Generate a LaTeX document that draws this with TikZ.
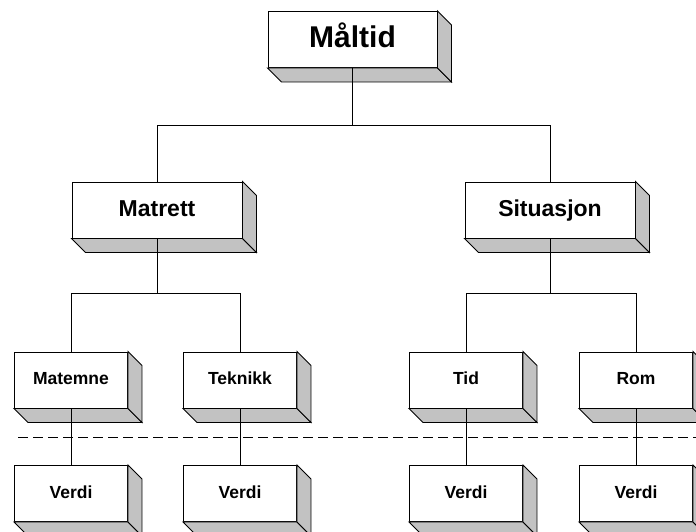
\documentclass[tikz,border=0pt]{standalone}
\usepackage{fontspec}
\setmainfont{Liberation Sans}
\usetikzlibrary{calc}
\definecolor{skygge}{gray}{0.76}

\begin{document}
\begin{tikzpicture}[x=1pt,y=-1pt,line width=0.9pt,
	blokk/.style={draw,fill=white,inner sep=0pt,minimum height=56pt},
	stor/.style={blokk,minimum width=169pt,text height=22pt,text depth=6pt,font=\bfseries\fontsize{30}{34}\selectfont},
	middels/.style={blokk,minimum width=170pt,text height=17pt,text depth=4.5pt,font=\bfseries\fontsize{23}{27}\selectfont},
	liten/.style={blokk,minimum width=113pt,text height=13pt,text depth=3.5pt,font=\bfseries\fontsize{17.5}{21}\selectfont}]
					%\draw[help lines] (0,0) grid[step=50] (696,531);
					\clip (0,0) rectangle (696,531);
					\fill[white] (0,0) rectangle (696,531);
					%MALTID
					\node[stor] (maltid) at (352.5,39.5) {Måltid};
					%MATRETT ET SITUASJON
					\node[middels] (matrett) at (157,210) {Matrett};
					\node[middels] (situasjon) at (550,210) {Situasjon};
					%NIVAA 3
					\node[liten] (matemne) at (71,380) {Matemne};
					\node[liten] (teknikk) at (240,380) {Teknikk};
					\node[liten] (tid) at (466,380) {Tid};
					\node[liten] (rom) at (636,380) {Rom};
					%VERDI
					\node[liten] (verdiA) at (71,493.5) {Verdi};
					\node[liten] (verdiB) at (240,493.5) {Verdi};
					\node[liten] (verdiC) at (466,493.5) {Verdi};
					\node[liten] (verdiD) at (636,493.5) {Verdi};

					%SKYGGE
					\foreach \n in {maltid,matrett,situasjon,matemne,teknikk,tid,rom,verdiA,verdiB,verdiC,verdiD}{
						\filldraw[fill=skygge] (\n.south west) -- ++(14,14) -- ($(\n.south east)+(14,14)$) -- (\n.south east) -- cycle;
						\filldraw[fill=skygge] (\n.north east) -- ++(14,14) -- ($(\n.south east)+(14,14)$) -- (\n.south east) -- cycle;
					}

					%LINJER
					\coordinate (k1) at (0,125);
					\coordinate (k2) at (0,293);
					\draw (maltid.south) -- (maltid.south |- k1) -| (matrett.north);
					\draw (maltid.south |- k1) -| (situasjon.north);
					\draw (matrett.south) -- (matrett.south |- k2) -| (matemne.north);
					\draw (matrett.south |- k2) -| (teknikk.north);
					\draw (situasjon.south) -- (situasjon.south |- k2) -| (tid.north);
					\draw (situasjon.south |- k2) -| (rom.north);
					\draw (matemne.south) -- (verdiA.north);
					\draw (teknikk.south) -- (verdiB.north);
					\draw (tid.south) -- (verdiC.north);
					\draw (rom.south) -- (verdiD.north);

					%SKILLELINJE
					\coordinate (s1) at (18,437);
					\coordinate (s2) at (696,437);
					\draw[dash pattern=on 10pt off 5pt] (s1) -- (s2);
				  \end{tikzpicture}
\end{document}
